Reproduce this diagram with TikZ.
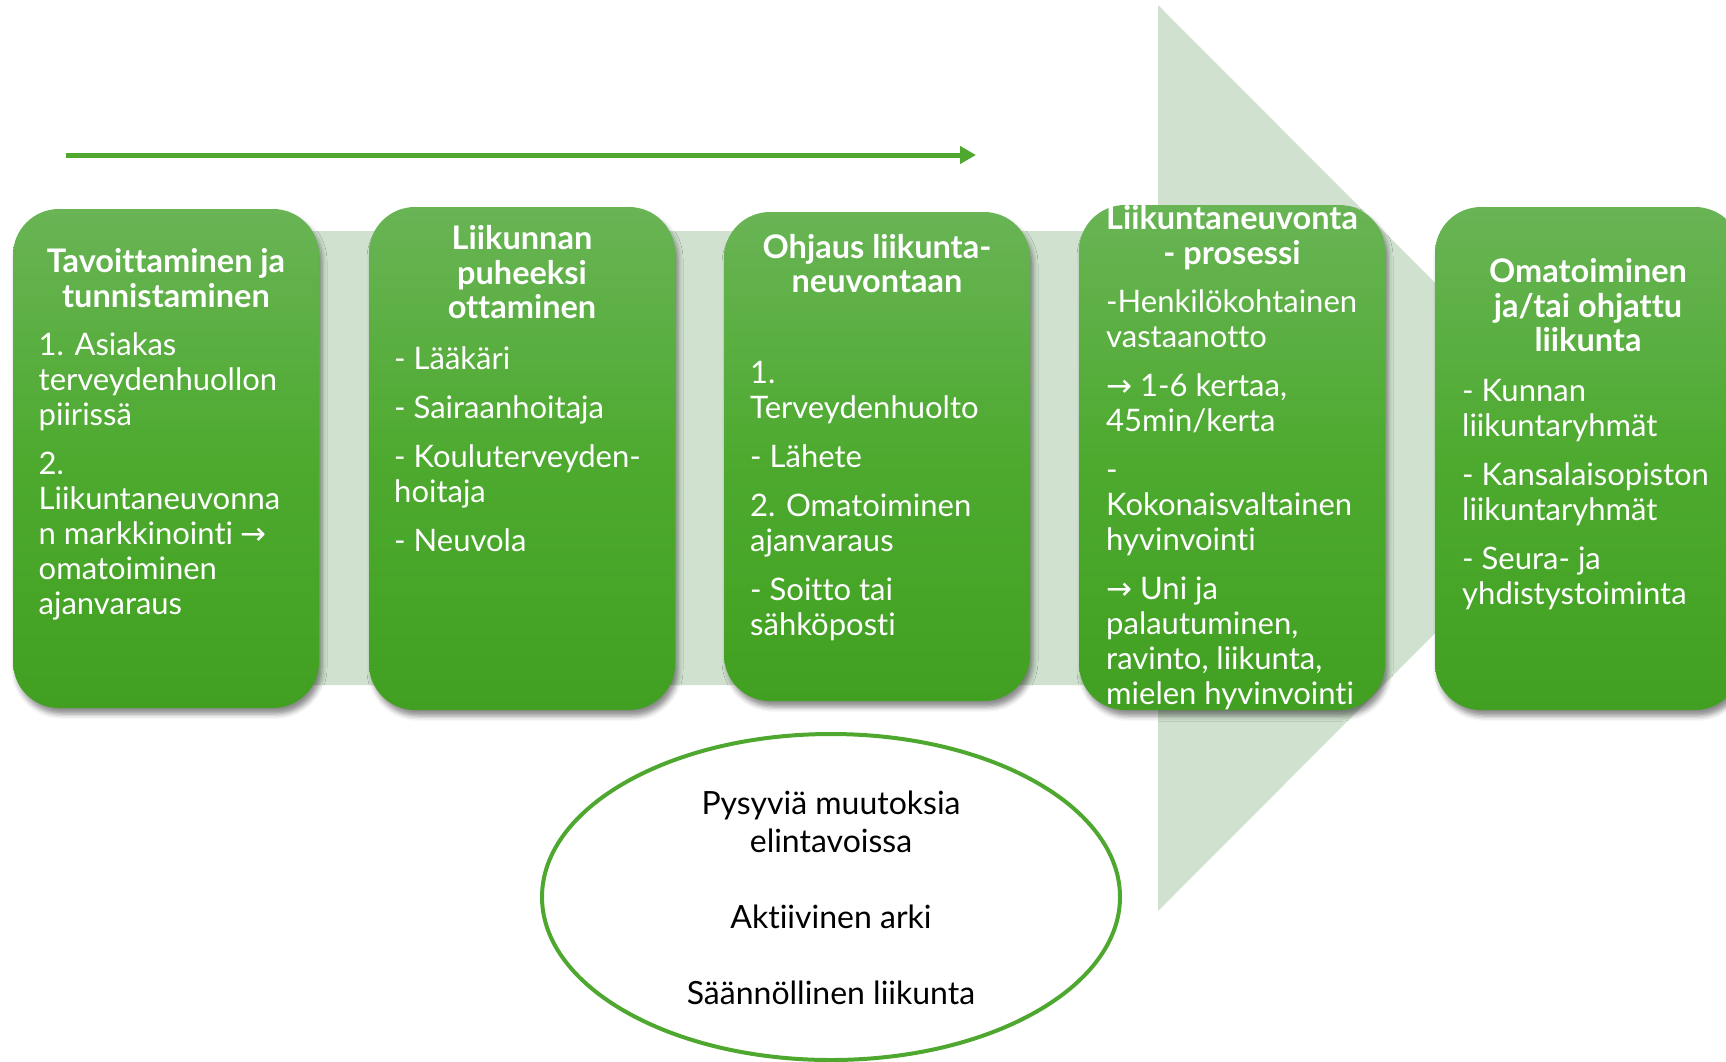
\documentclass[tikz,border=0pt]{standalone}
\usepackage{fontspec}
\setmainfont{Lato}[Ligatures=NoCommon]
\newfontfamily\arrowfont{DejaVu Sans}
\usetikzlibrary{shapes.geometric,arrows.meta,shadows.blur}
\definecolor{bgarrow}{HTML}{D0E2CF}
\definecolor{gtop}{HTML}{69B455}
\definecolor{gmid}{HTML}{4DAA2F}
\definecolor{gbot}{HTML}{41A021}
\definecolor{lineg}{HTML}{4EA72E}
\newcommand{\myarr}{{\arrowfont →}}
\tikzset{
  box/.style={rectangle, rounded corners=46pt, minimum width=306pt, inner sep=0pt,
    top color=gtop, bottom color=gbot, middle color=gmid,
    blur shadow={shadow xshift=3pt, shadow yshift=-6pt, shadow blur radius=5pt, shadow opacity=45}},
  ttl/.style={anchor=north, align=center, text=white, inner sep=0pt,
    font=\bfseries\fontsize{32.5}{34}\selectfont},
  body/.style={anchor=north west, align=left, text=white, inner sep=0pt,
    font=\fontsize{31}{35}\selectfont},
  ring/.style={ellipse, draw=lineg, line width=4pt, inner sep=0pt,
    minimum width=578pt, minimum height=326pt},
  ringtext/.style={anchor=north, align=center, text=black, inner sep=0pt,
    font=\fontsize{32}{38}\selectfont},
  topline/.style={draw=lineg, line width=5pt, -{Triangle[length=16pt,width=17pt]}}
}
\begin{document}
\begin{tikzpicture}[x=1pt,y=-1pt]
\useasboundingbox (0,0) rectangle (1726,1061);
\clip (0,0) rectangle (1726,1061);
% background arrow
\fill[bgarrow] (30,231) -- (1158,231) -- (1158,5) -- (1610,458) -- (1158,911) -- (1158,685) -- (30,685) -- cycle;
% top arrow line
\coordinate (ls) at (66,155);
\coordinate (le) at (976,155);
\draw[topline] (ls) -- (le);
% boxes
\node[box, minimum height=499pt] (b1) at (166,458.5) {};
\node[box, minimum height=503pt] (b2) at (522,458.5) {};
\node[box, minimum height=489pt] (b3) at (877,456.5) {};
\node[box, minimum height=505pt] (b4) at (1232,457.5) {};
\node[box, minimum height=503pt] (b5) at (1588,458.5) {};
% titles
\node[ttl] (t1) at (166,248) {\strut Tavoittaminen ja\\tunnistaminen};
\node[ttl] (t2) at (522,225) {\strut Liikunnan\\puheeksi\\ottaminen};
\node[ttl] (t3) at (877,234) {\strut Ohjaus liikunta-\\neuvontaan};
\node[ttl] (t4) at (1232,205) {\strut Liikuntaneuvonta\\- prosessi};
\node[ttl] (t5) at (1588,258) {\strut Omatoiminen\\ja/tai ohjattu\\liikunta};
% bodies
\node[body] (d1) at (38.5,330.5) {\strut 1. Asiakas\\terveydenhuollon\\piirissä\\[14pt]2.\\Liikuntaneuvonna\\n markkinointi \myarr\\omatoiminen\\ajanvaraus};
\node[body] (d2) at (394,344.5) {\strut - Lääkäri\\[14pt]- Sairaanhoitaja\\[14pt]- Kouluterveyden-\\hoitaja\\[14pt]- Neuvola};
\node[body] (d3) at (750,358.5) {\strut 1.\\Terveydenhuolto\\[14pt]- Lähete\\[14pt]2. Omatoiminen\\ajanvaraus\\[14pt]- Soitto tai\\sähköposti};
\node[body] (d4) at (1106,287.5) {\strut -Henkilökohtainen\\vastaanotto\\[14pt]\myarr{} 1-6 kertaa,\\45min/kerta\\[14pt]-\\Kokonaisvaltainen\\hyvinvointi\\[14pt]\myarr{} Uni ja\\palautuminen,\\ravinto, liikunta,\\mielen hyvinvointi};
\node[body] (d5) at (1462,376.5) {\strut - Kunnan\\liikuntaryhmät\\[14pt]- Kansalaisopiston\\liikuntaryhmät\\[14pt]- Seura- ja\\yhdistystoiminta};
% ellipse
\node[ring] (ell) at (831,897) {};
\node[ringtext] (elltext) at (831,787.4) {\strut Pysyviä muutoksia\\elintavoissa\\[38pt]Aktiivinen arki\\[38pt]Säännöllinen liikunta};
\end{tikzpicture}
\end{document}
